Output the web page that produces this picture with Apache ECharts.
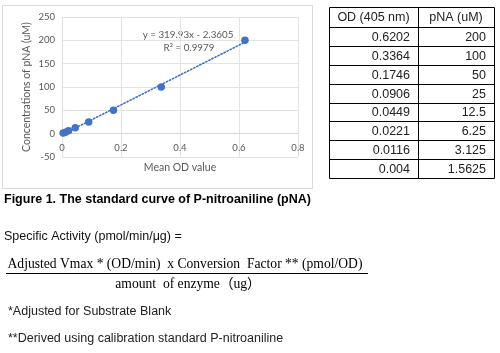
<!DOCTYPE html>
<html><head><meta charset="utf-8">
<script src="https://cdn.jsdelivr.net/npm/echarts@6/dist/echarts.min.js"></script>
<style>html,body{margin:0;padding:0;background:#fff}#c{width:500px;height:353px}</style>
</head><body><div id="c"></div>
<script>
// ---- data ----
const odValues = [0.6202, 0.3364, 0.1746, 0.0906, 0.0449, 0.0221, 0.0116, 0.004];
const pnaValues = [200, 100, 50, 25, 12.5, 6.25, 3.125, 1.5625];
const odLabels = ['0.6202', '0.3364', '0.1746', '0.0906', '0.0449', '0.0221', '0.0116', '0.004'];
const pnaLabels = ['200', '100', '50', '25', '12.5', '6.25', '3.125', '1.5625'];
const tableHeaders = ['OD (405 nm)', 'pNA (uM)'];
const trendX = [0.004, 0.6202];
const trendY = [-1.08, 196.06];
const equationText = 'y = 319.93x - 2.3605';
const r2Text = 'R\u00B2 = 0.9979';
const xTicks = [0, 0.8, 0.2];   // min, max, interval
const yTicks = [-50, 250, 50];
const xTitle = 'Mean OD value';
const yTitle = 'Concentrations of pNA (uM)';
const caption = 'Figure 1. The standard curve of P-nitroaniline (pNA)';
const formulaLabel = 'Specific Activity (pmol/min/\u03BCg) =';
const numerator = 'Adjusted Vmax * (OD/min)  x Conversion  Factor ** (pmol/OD)';
const denominator = 'amount  of enzyme\uFF08ug\uFF09';
const notes = ['*Adjusted for Substrate Blank', '**Derived using calibration standard P-nitroaniline'];

// ---- layout ----
const chart = echarts.init(document.getElementById('c'), null, {renderer: 'canvas'});
const tX = 329, tMid = 418, tR = 494, tTop = 7, hdrH = 20, rowH = 151 / 8;
const tableFont = '12.5px "Liberation Sans", Arial, sans-serif';
const sansFont = '"Liberation Sans", Arial, sans-serif';
const g = [];
// chart frame
g.push({type: 'rect', shape: {x: 2.5, y: 5.5, width: 310, height: 183}, style: {fill: 'none', stroke: '#d9d9d9', lineWidth: 1}, z: 0});
// table
const tBottom = tTop + hdrH + rowH * odLabels.length;
g.push({type: 'rect', shape: {x: tX + 0.5, y: tTop + 0.5, width: tR - tX, height: tBottom - tTop}, style: {fill: 'none', stroke: '#000', lineWidth: 1}});
g.push({type: 'line', shape: {x1: tMid + 0.5, y1: tTop, x2: tMid + 0.5, y2: tBottom}, style: {stroke: '#000', lineWidth: 1}});
g.push({type: 'text', x: (tX + tMid) / 2, y: tTop + hdrH / 2 + 1, style: {text: tableHeaders[0], font: tableFont, fill: '#222', align: 'center', verticalAlign: 'middle'}});
g.push({type: 'text', x: (tMid + tR) / 2, y: tTop + hdrH / 2 + 1, style: {text: tableHeaders[1], font: tableFont, fill: '#222', align: 'center', verticalAlign: 'middle'}});
odLabels.forEach((s, i) => {
  const y0 = Math.round(tTop + hdrH + rowH * i) + 0.5;
  g.push({type: 'line', shape: {x1: tX, y1: y0, x2: tR, y2: y0}, style: {stroke: '#000', lineWidth: 1}});
  const yc = tTop + hdrH + rowH * (i + 0.5) + 1;
  g.push({type: 'text', x: tMid - 8, y: yc, style: {text: s, font: tableFont, fill: '#222', align: 'right', verticalAlign: 'middle'}});
  g.push({type: 'text', x: tR - 8, y: yc, style: {text: pnaLabels[i], font: tableFont, fill: '#222', align: 'right', verticalAlign: 'middle'}});
});
// equation
g.push({type: 'text', x: 188, y: 35, style: {text: equationText, font: '9.8px Lato, "Open Sans", sans-serif', fill: '#595959', align: 'center', verticalAlign: 'middle'}});
g.push({type: 'text', x: 189, y: 48, style: {text: r2Text, font: '9.8px Lato, "Open Sans", sans-serif', fill: '#595959', align: 'center', verticalAlign: 'middle'}});
// caption and formula
g.push({type: 'text', x: 4, y: 200, style: {text: caption, font: 'bold 12.5px ' + sansFont, fill: '#000', align: 'left', verticalAlign: 'middle'}});
g.push({type: 'text', x: 4, y: 237, style: {text: formulaLabel, font: '12.5px ' + sansFont, fill: '#111', align: 'left', verticalAlign: 'middle'}});
g.push({type: 'text', x: 185, y: 264, style: {text: numerator, font: '13.6px "Liberation Serif", "Times New Roman", serif', fill: '#000', align: 'center', verticalAlign: 'middle'}});
g.push({type: 'line', shape: {x1: 6, y1: 273.5, x2: 368, y2: 273.5}, style: {stroke: '#000', lineWidth: 1}});
g.push({type: 'text', x: 188, y: 284, style: {text: denominator, font: '13.6px "Liberation Serif", "Noto Sans CJK SC", serif', fill: '#000', align: 'center', verticalAlign: 'middle'}});
g.push({type: 'text', x: 8, y: 312, style: {text: notes[0], font: '12.5px ' + sansFont, fill: '#222', align: 'left', verticalAlign: 'middle'}});
g.push({type: 'text', x: 8, y: 339, style: {text: notes[1], font: '12.5px ' + sansFont, fill: '#222', align: 'left', verticalAlign: 'middle'}});

const axisFont = {color: '#595959', fontSize: 9.5, fontFamily: 'Lato, "Open Sans", sans-serif'};
chart.setOption({
  animation: false,
  backgroundColor: '#fff',
  grid: {left: 62, top: 17, right: 202, bottom: 196, containLabel: false},
  xAxis: {
    type: 'value', min: xTicks[0], max: xTicks[1], interval: xTicks[2],
    offset: -24,
    name: xTitle, nameLocation: 'middle', nameGap: 29,
    nameTextStyle: Object.assign({}, axisFont, {fontSize: 10.5}),
    axisLine: {show: true, onZero: false, lineStyle: {color: '#d9d9d9'}},
    axisTick: {show: false},
    axisLabel: Object.assign({}, axisFont, {margin: 10}),
    splitLine: {show: true, lineStyle: {color: '#e3e3e3'}}
  },
  yAxis: {
    type: 'value', min: yTicks[0], max: yTicks[1], interval: yTicks[2],
    name: yTitle, nameLocation: 'middle', nameGap: 30, nameRotate: 90,
    nameTextStyle: Object.assign({}, axisFont, {fontSize: 10.5}),
    axisLine: {show: false},
    axisTick: {show: false},
    axisLabel: Object.assign({}, axisFont, {margin: 7}),
    splitLine: {show: true, lineStyle: {color: '#e3e3e3'}}
  },
  series: [
    {type: 'line', data: trendX.map((x, i) => [x, trendY[i]]), symbol: 'none',
     lineStyle: {color: '#4472C4', width: 1.6, type: [1.4, 2], cap: 'round'}, z: 2},
    {type: 'scatter', data: odValues.map((x, i) => [x, pnaValues[i]]), symbolSize: 7.5,
     itemStyle: {color: '#4472C4', opacity: 1}, z: 3}
  ],
  graphic: g
});
</script></body></html>
